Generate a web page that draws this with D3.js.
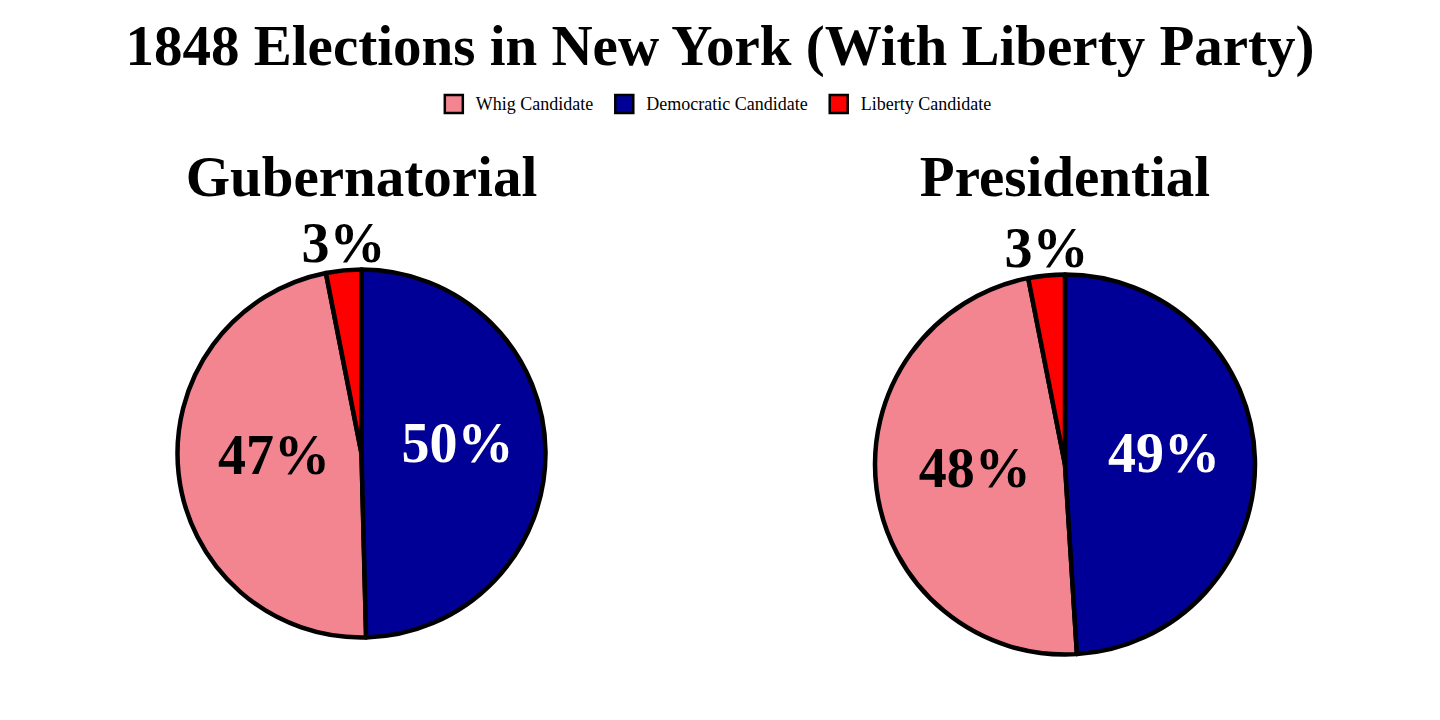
<!DOCTYPE html>
<meta charset="utf-8">
<style>
body { margin: 0; background: #fff; }
text { font-family: "Liberation Serif", "Times New Roman", serif; }
.slice path { stroke: #000; stroke-width: 4.5px; stroke-linejoin: round; }
</style>
<svg width="1440" height="720"></svg>
<script src="https://d3js.org/d3.v7.min.js"></script>
<script>
// legend order
var candidates = ["Whig Candidate", "Democratic Candidate", "Liberty Candidate"];
var colors = ["#F2858F", "#000096", "#FF0000"];
var labelColors = ["#000", "#fff", "#000"];

// vote shares (%), in the legend order above
var gubernatorial = [47.3, 49.6, 3.1];
var presidential = [47.9, 49.0, 3.1];

var pies = [
  {title: "Gubernatorial", values: gubernatorial, cx: 361.5, cy: 453.5, r: 184},
  {title: "Presidential", values: presidential, cx: 1065, cy: 464.5, r: 190}
];

var svg = d3.select("svg"),
    width = +svg.attr("width");

svg.append("text")
    .attr("x", width / 2)
    .attr("y", 65)
    .attr("text-anchor", "middle")
    .attr("font-size", 57)
    .attr("font-weight", "bold")
    .text("1848 Elections in New York (With Liberty Party)");

// legend
var legend = svg.append("g").attr("class", "legend");
var lx = 0;
candidates.forEach(function(c, i) {
  var item = legend.append("g").attr("transform", "translate(" + lx + ",0)");
  item.append("rect")
      .attr("x", 0).attr("y", -9)
      .attr("width", 18).attr("height", 18)
      .attr("fill", colors[i])
      .attr("stroke", "#000")
      .attr("stroke-width", 2.5);
  var t = item.append("text")
      .attr("x", 31)
      .attr("y", 6)
      .attr("font-size", 18)
      .text(c);
  lx += 31 + t.node().getComputedTextLength() + 22;
});
var lw = lx - 22;
legend.attr("transform", "translate(" + (width / 2 - 2 - lw / 2) + ",104)");

pies.forEach(function(p) {
  var total = d3.sum(p.values);
  // pie over candidate indices so colours stay with the candidate after sorting
  var pie = d3.pie()
      .value(function(i) { return p.values[i]; })
      .sort(function(a, b) { return p.values[b] - p.values[a]; });

  var g = svg.append("g")
      .attr("class", "slice")
      .attr("transform", "translate(" + p.cx + "," + p.cy + ")");

  svg.append("text")
      .attr("x", p.cx)
      .attr("y", 196)
      .attr("text-anchor", "middle")
      .attr("font-size", 57)
      .attr("font-weight", "bold")
      .text(p.title);

  var arcs = pie(d3.range(candidates.length));
  var arc = d3.arc().innerRadius(0).outerRadius(p.r);

  g.selectAll("path")
    .data(arcs)
    .enter().append("path")
      .attr("d", arc)
      .attr("fill", function(d) { return colors[d.data]; });

  g.selectAll("text")
    .data(arcs)
    .enter().append("text")
      .attr("text-anchor", "middle")
      .attr("font-size", 56)
      .attr("font-weight", "bold")
      .attr("fill", function(d) { return labelColors[d.data]; })
      .attr("transform", function(d) {
        var mid = (d.startAngle + d.endAngle) / 2;
        if (d.endAngle - d.startAngle < 0.4) {
          // small slice: label sits outside, above the rim
          return "translate(" + (p.r * Math.sin(mid)) + "," + (-p.r * Math.cos(mid) - 8) + ")";
        }
        var c = arc.centroid(d);
        return "translate(" + (c[0] + 4) + "," + (c[1] + 10) + ")";
      })
      .text(function(d) { return Math.round(d.value / total * 100) + "%"; });
});
</script>
